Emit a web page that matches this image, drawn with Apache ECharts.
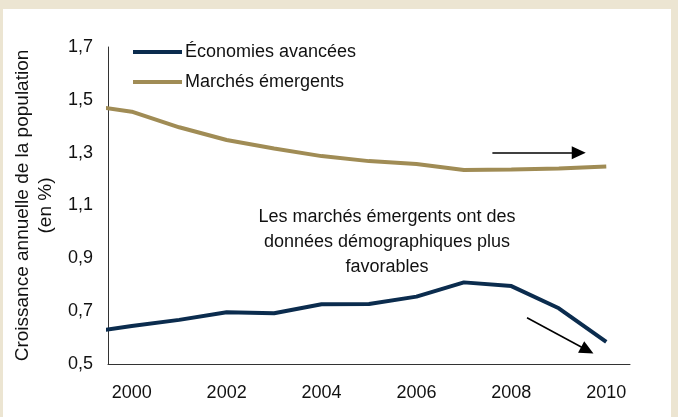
<!DOCTYPE html>
<html>
<head>
<meta charset="utf-8">
<script src="https://cdn.jsdelivr.net/npm/echarts@6/dist/echarts.min.js"></script>
<style>
  html, body { margin: 0; padding: 0; }
  body { width: 678px; height: 417px; background: #ece5d2; position: relative; overflow: hidden; }
  #main { position: absolute; left: 3px; top: 9px; width: 668px; height: 408px; background: #fff; }
</style>
</head>
<body>
<div id="main"></div>
<script>
// années (1999 sert seulement au début de la courbe, coupé par l'axe)
var years = [1999, 2000, 2001, 2002, 2003, 2004, 2005, 2006, 2007, 2008, 2009, 2010];
var avancees = [0.618, 0.644, 0.667, 0.696, 0.692, 0.726, 0.727, 0.755, 0.809, 0.795, 0.711, 0.584];
var emergents = [1.481, 1.455, 1.396, 1.348, 1.316, 1.287, 1.268, 1.257, 1.234, 1.236, 1.240, 1.248];
var xTicks = [2000, 2002, 2004, 2006, 2008, 2010];

var pairs = function (vals) {
    return years.map(function (y, i) { return [y, vals[i]]; });
};

var myChart = echarts.init(document.getElementById('main'));
var font = 'Liberation Sans, Arial, sans-serif';
var navy = '#0b2c4e', gold = '#a08c55';

myChart.setOption({
    animation: false,
    textStyle: { fontFamily: font },
    grid: { left: 105, right: 41, top: 38, bottom: 53 },
    legend: {
        orient: 'vertical',
        left: 125,
        top: 29,
        itemWidth: 49,
        itemHeight: 4,
        itemGap: 12,
        textStyle: { fontSize: 18, color: '#111', fontFamily: font, padding: [0, 0, 0, -2] },
        data: [
            { name: 'Économies avancées', icon: 'rect' },
            { name: 'Marchés émergents', icon: 'rect' }
        ]
    },
    xAxis: {
        type: 'value',
        min: 1999.5,
        max: 2010.5,
        splitLine: { show: false },
        axisTick: { show: false },
        axisLine: { lineStyle: { color: '#333', width: 1 } },
        axisLabel: {
            customValues: xTicks,
            fontSize: 18,
            color: '#111',
            margin: 20,
            formatter: function (v) { return String(v); }
        }
    },
    yAxis: {
        type: 'value',
        min: 0.5,
        max: 1.7,
        interval: 0.2,
        splitLine: { show: false },
        axisTick: { show: false },
        axisLine: { show: true, lineStyle: { color: '#333', width: 1 } },
        axisLabel: {
            fontSize: 18,
            color: '#111',
            margin: 15,
            formatter: function (v) { return v.toFixed(1).replace('.', ','); }
        },
        name: 'Croissance annuelle de la population\n(en %)',
        nameLocation: 'middle',
        nameGap: 51,
        nameTextStyle: { fontSize: 19, color: '#111', lineHeight: 23, fontFamily: font }
    },
    graphic: [{
        type: 'text',
        x: 384,
        y: 196,
        style: {
            text: 'Les marchés émergents ont des\ndonnées démographiques plus\nfavorables',
            align: 'center',
            font: '18px ' + font,
            lineHeight: 25,
            fill: '#111'
        }
    }],
    series: [
        {
            name: 'Économies avancées',
            type: 'line',
            symbol: 'none',
            clip: true,
            color: navy,
            lineStyle: { width: 4, color: navy },
            data: pairs(avancees),
            markLine: {
                silent: true,
                symbol: ['none', 'triangle'],
                symbolSize: [13, 14],
                label: { show: false },
                lineStyle: { color: '#000', width: 1.5, type: 'solid' },
                data: [
                    [{ coord: [2007.6, 1.300] }, { coord: [2009.42, 1.300] }],
                    [{ coord: [2008.33, 0.675] }, { coord: [2009.6, 0.552] }]
                ]
            }
        },
        {
            name: 'Marchés émergents',
            type: 'line',
            symbol: 'none',
            clip: true,
            color: gold,
            lineStyle: { width: 4, color: gold },
            data: pairs(emergents)
        }
    ]
});
</script>
</body>
</html>
